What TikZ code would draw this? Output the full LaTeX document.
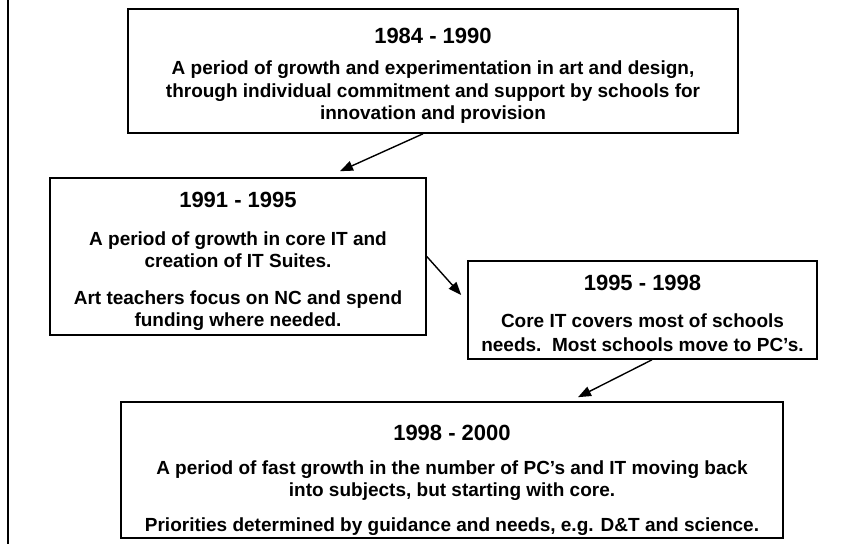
\documentclass[tikz,border=0pt]{standalone}
\usepackage{fontspec}
\setmainfont{Liberation Sans}
\usetikzlibrary{arrows.meta}

\begin{document}
\begin{tikzpicture}[x=1pt,y=-1pt,
  period/.style={draw=black, line width=1.6pt, fill=white, inner sep=0pt,
    align=center, font=\bfseries\fontsize{19}{22.5}\selectfont},
  arr/.style={line width=1.4pt, -{Triangle[length=13pt,width=10pt]}}]
% year heading, with a strut that sets the space above it
\newcommand{\yearhead}[2]{{\fontsize{22}{22.5}\selectfont\rule{0pt}{#1}#2}}

\useasboundingbox (0,0) rectangle (865,544);

% margin rule on the left
\coordinate (ruletop) at (8,0);
\coordinate (rulebot) at (8,544);
\draw[line width=1.5pt] (ruletop) -- (rulebot);

% the four periods
\node[period, minimum width=610pt, minimum height=124pt] (b1) at (433,71)
  {\yearhead{25pt}{1984 - 1990}\\[9pt]
   A period of growth and experimentation in art and design,\\
   through individual commitment and support by schools for\\
   innovation and provision};

\node[period, minimum width=376pt, minimum height=157pt] (b2) at (238,256.5)
  {\yearhead{26pt}{1991 - 1995}\\[15pt]
   A period of growth in core IT and\\
   creation of IT Suites.\\[14pt]
   Art teachers focus on NC and spend\\
   funding where needed.};

\node[period, minimum width=349pt, minimum height=98pt] (b3) at (642.5,310)
  {\yearhead{22pt}{1995 - 1998}\\[15pt]
   Core IT covers most of schools\\[1.5pt]
   needs.\ \ Most schools move to PC’s.};

\node[period, minimum width=662pt, minimum height=136pt] (b4) at (452,470)
  {\yearhead{36pt}{1998 - 2000}\\[11pt]
   A period of fast growth in the number of PC’s and IT moving back\\
   into subjects, but starting with core.\\[12pt]
   Priorities determined by guidance and needs, e.g. D\&T and science.};

% transitions between periods
\draw[arr] ([xshift=-10pt]b1.south) -- ([xshift=102pt,yshift=6pt]b2.north);
\draw[arr] (b2.east) -- ([xshift=-6pt,yshift=15pt]b3.west);
\draw[arr] ([xshift=9.5pt]b3.south) -- ([xshift=126pt,yshift=4pt]b4.north);
\end{tikzpicture}
\end{document}
